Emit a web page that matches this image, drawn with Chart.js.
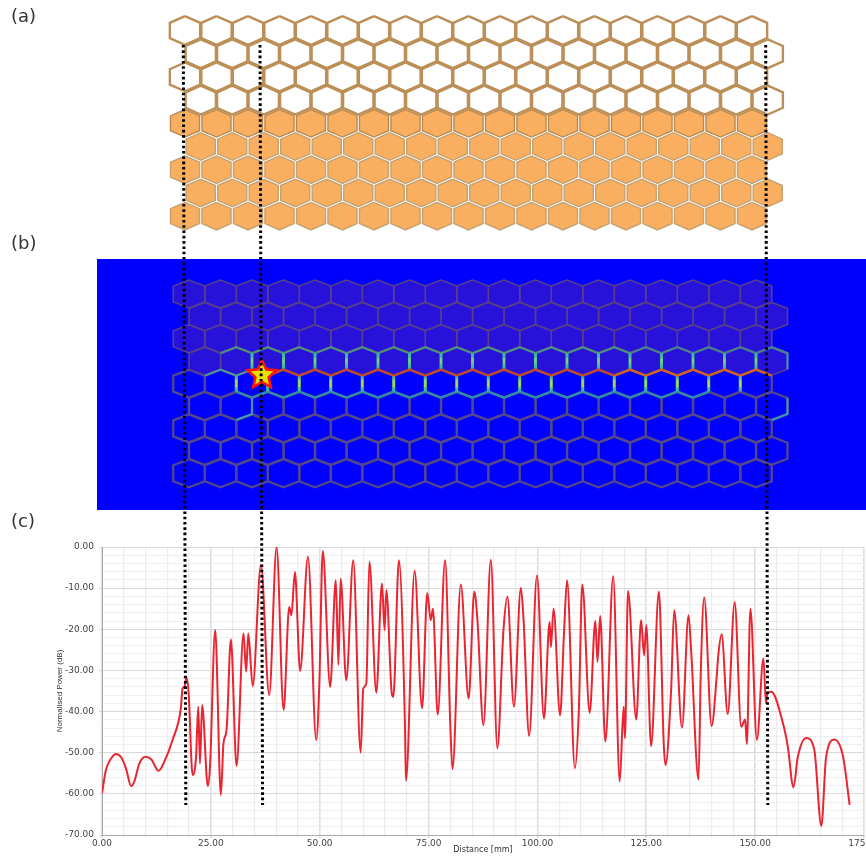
<!DOCTYPE html>
<html>
<head>
<meta charset="utf-8">
<script src="https://cdn.jsdelivr.net/npm/chart.js@4"></script>
<style>
  html, body { margin: 0; padding: 0; background: #fff; }
  #page { position: relative; width: 866px; height: 856px; overflow: hidden; }
  canvas { position: absolute; left: 0; top: 0; }
  #plot { filter: blur(0.6px); }
  #layout { filter: blur(0.5px); }
  .tag { position: absolute; left: 11px; font: 18px "DejaVu Sans", sans-serif; color: #333; line-height: 20px; }
</style>
</head>
<body>
<div id="page">
  <canvas id="plot" width="866" height="856"></canvas>
  <canvas id="layout" width="866" height="856"></canvas>
  <div class="tag" style="top:6px">(a)</div>
  <div class="tag" style="top:233px">(b)</div>
  <div class="tag" style="top:511px">(c)</div>
</div>
<script>
// Measured power along the waveguide (c)
const distance = [0, 0.9, 2.1, 3.2, 4.4, 5.5, 6.7, 7.4, 8.6, 10, 11.3, 13, 14.3, 16.2, 18.1, 18.5, 18.9, 19.4, 19.9, 20.8,
  21.6, 22.1, 22.5, 23, 24.3, 24.8, 26, 27.3, 27.9, 28.6, 29.6, 30.9, 32.5, 33.1, 33.6, 34.6, 36.5, 38.4, 40.1, 41.7,
  43, 43.5, 44.3, 45.5, 47.3, 49.2, 49.9, 50.7, 52.4, 53.7, 54.3, 54.8, 56.1, 57.7, 59.4, 60, 60.7, 61.4, 63, 64.3,
  64.9, 65.3, 66.6, 66.9, 68.2, 69.6, 69.8, 71.8, 73.5, 74.7, 75.5, 76, 77.1, 78.8, 80, 80.5, 82.4, 84.2, 85.5, 86.2,
  87.6, 89.3, 90.8, 92.2, 93.1, 94.6, 96.2, 96.8, 98.1, 99.9, 101.5, 102.8, 103.1, 103.7, 105.2, 106.1, 106.8, 108.6, 109.5, 110.3,
  112, 113.3, 113.8, 114.4, 115.6, 117.4, 118.9, 119.8, 120.1, 120.8, 122.7, 123.8, 124.5, 125, 126.1, 127.9, 129, 129.4, 130.7, 131.4,
  133.2, 134.7, 135.3, 137, 137.5, 138.3, 140, 141.2, 141.5, 142.3, 143.7, 145.3, 146.8, 147.7, 148.1, 148.9, 150.4, 151.9, 152.5, 152.8,
  153.7, 156.4, 157.5, 158.8, 159.8, 161.7, 163.6, 165.2, 166.3, 168.2, 170.2, 171.7];
const power = [-59.9, -54.2, -51.4, -50.3, -51.1, -53.8, -58.1, -57, -52.6, -51, -51.6, -54.4, -52.2, -46.9, -39.2, -34.4, -34, -31.7, -35.6, -55.4,
  -51, -38.8, -52.6, -38.4, -58.1, -53.4, -20.2, -60.3, -47.7, -44.5, -22.5, -53.2, -21, -30.3, -21, -33.8, -4.4, -36, 0, -39.6,
  -14.6, -16.6, -6.1, -30.1, -2.4, -46.9, -33.6, -1, -34, -8.1, -28.7, -7.7, -32.4, -3.2, -50, -34.4, -33.2, -3.6, -35.4, -8.9,
  -20.2, -10.5, -36, -36.4, -3.2, -44.5, -56.8, -5.8, -39.2, -11.2, -17.8, -15, -40.7, -3.2, -43.7, -54, -9.1, -36.8, -10.9, -17.4,
  -43.3, -3.1, -48.9, -20.2, -12.1, -38.8, -9.9, -17.4, -45.9, -6.9, -41.7, -18.2, -24.3, -15, -40.9, -21, -8.1, -53.8, -40, -9.1,
  -40.3, -18, -27.9, -16.8, -47.3, -7.1, -57, -38.8, -46.5, -10.7, -41.9, -17.8, -26.3, -19, -48.4, -10.8, -47.7, -53, -34.8, -15.4,
  -43.9, -16.6, -25.1, -56.5, -31.1, -12.3, -43.5, -31.1, -26.7, -21.2, -40.6, -13.4, -43.7, -41.9, -47.9, -15, -46.9, -27.1, -38, -35.6,
  -35.2, -42.9, -48.5, -58.4, -51, -46.4, -49.4, -67.8, -51, -46.8, -51, -62.7];

// Honeycomb layout
const rows = [0, 1, 2, 3, 4, 5, 6, 7, 8];
const cols = [0, 1, 2, 3, 4, 5, 6, 7, 8, 9, 10, 11, 12, 13, 14, 15, 16, 17, 18];
const tintedRows = [0, 1, 2, 3];
const guideTop = [[183.3, 45], [260, 45], [765.7, 45]];
const guideBottom = [[185.8, 805], [262.6, 805], [767.8, 805]];

// Which hexagon edges light up in the field map (b), by column
const hotZigzag = [3, 4, 5, 6, 7, 8, 9, 10, 11, 12, 13, 14, 15, 16, 17, 18];
const coolZigzag = [1, 2];
const row4Walls = [1, 2, 3, 4, 5, 6, 7, 8, 9, 10, 11, 12, 13, 14, 15, 16, 17];
const row5Walls = [1, 2, 3, 4, 5, 6, 7, 8, 9, 10, 11, 12, 13, 14, 15, 16, 17];
const row4Roofs = [1, 2, 3, 4, 5, 6, 7, 8, 9, 10, 11, 12, 13, 14, 15, 16, 17, 18];
const row5Floors = [2, 3, 4, 5, 6, 7, 8, 9, 10, 11, 12, 13, 14, 15, 16];

const panelA = { x0: 185, y0: 30.5, dy: 23.2, rx: 15.75, top: 15, side: 8 };
const panelB = { x0: 189, y0: 294, dy: 22.4, rx: 15.75, top: 14, side: 8 };
const pitch = 31.5;

function hexCentre(p, r, c) {
  return { x: p.x0 + c * pitch + (r % 2 ? p.rx : 0), y: p.y0 + r * p.dy };
}

function hexagon(p, r, c, shrink) {
  const o = hexCentre(p, r, c);
  const rx = p.rx - shrink, t = p.top - shrink, s = p.side - shrink / 2;
  return [
    { x: o.x, y: o.y - t }, { x: o.x + rx, y: o.y - s }, { x: o.x + rx, y: o.y + s },
    { x: o.x, y: o.y + t }, { x: o.x - rx, y: o.y + s }, { x: o.x - rx, y: o.y - s },
    { x: o.x, y: o.y - t }
  ];
}

function star(cx, cy, outer, inner) {
  const pts = [];
  for (let i = 0; i <= 10; i++) {
    const a = -Math.PI / 2 + i * Math.PI / 5;
    const r = i % 2 ? inner : outer;
    pts.push({ x: cx + r * Math.cos(a), y: cy + r * Math.sin(a) });
  }
  return pts;
}

function middle(a, b, part) {
  const m = { x: (a.x + b.x) / 2, y: (a.y + b.y) / 2 };
  return [
    { x: m.x + (a.x - m.x) * part, y: m.y + (a.y - m.y) * part },
    { x: m.x + (b.x - m.x) * part, y: m.y + (b.y - m.y) * part }
  ];
}

function path(points, color, width, extra) {
  return Object.assign({
    data: points, showLine: true, pointRadius: 0, borderColor: color, borderWidth: width,
    fill: false, tension: 0, borderJoinStyle: 'miter'
  }, extra || {});
}

function shape(points, fillColor, color, width) {
  return path(points, color, width, { fill: 'shape', backgroundColor: fillColor });
}

// first dataset ends up on top
const layers = [];

guideTop.forEach((t, i) => {
  const b = guideBottom[i];
  layers.push(path([{ x: t[0], y: t[1] }, { x: b[0], y: b[1] }], '#000', 3, { borderDash: [2.6, 2.7] }));
});

layers.push(shape(star(262, 375, 15, 7), '#E6E000', '#FF1408', 2.6));

hotZigzag.forEach(c => {
  const h = hexagon(panelB, 4, c, 0);
  layers.push(path([h[5], h[0], h[1]], c > 13 ? '#D0641E' : '#BE4A2A', 2.3));
});
coolZigzag.forEach(c => {
  const h = hexagon(panelB, 4, c, 0);
  layers.push(path([h[5], h[0], h[1]], '#4E9A9A', 2));
});
row5Walls.forEach(c => {
  const h = hexagon(panelB, 4, c, 0);
  layers.push(path(middle(h[1], h[2], 0.5), '#B4D648', 2.2));
  layers.push(path([h[1], h[2]], '#38BE9E', 3));
});
row4Walls.forEach(c => {
  const h = hexagon(panelB, 3, c, 0);
  layers.push(path(middle(h[1], h[2], 0.4), '#7CD070', 2));
  layers.push(path([h[1], h[2]], '#3EB89E', 3));
});
row4Roofs.forEach(c => {
  const h = hexagon(panelB, 3, c, 0);
  layers.push(path([h[5], h[0], h[1]], c < 14 ? '#4F8F80' : '#4B7F90', 2.2));
});
row5Floors.forEach(c => {
  const h = hexagon(panelB, 4, c, 0);
  layers.push(path([h[2], h[3], h[4]], '#2F8FA6', 2.2));
});
// the cell under the source and the far right cells
let h6 = hexagon(panelB, 5, 1, 0);
layers.push(path([h6[1], h6[2], h6[3]], '#3E9CB0', 2));
h6 = hexagon(panelB, 5, 18, 0);
layers.push(path([h6[1], h6[2], h6[3]], '#3E9CB0', 2));
h6 = hexagon(panelB, 3, 18, 0);
layers.push(path([h6[0], h6[1], h6[2]], '#3E9CB0', 2));

rows.forEach(r => cols.forEach(c => {
  const tinted = tintedRows.includes(r);
  layers.push(shape(hexagon(panelB, r, c, 0), tinted ? '#2812DA' : '#0000FF', tinted ? '#563F8C' : '#54478A', tinted ? 1.6 : 2.3));
}));

layers.push(shape([{ x: 97, y: 259 }, { x: 866, y: 259 }, { x: 866, y: 510 }, { x: 97, y: 510 }, { x: 97, y: 259 }], '#0000FF', '#0000FF', 0));

rows.forEach(r => cols.forEach(c => {
  if (r < 4) {
    layers.push(shape(hexagon(panelA, r, c, 0.6), '#FFFFFF', '#BC8F58', 2.4));
  } else {
    layers.push(shape(hexagon(panelA, r, c, 1.2), '#F9AE60', r === 4 ? '#B98A50' : '#C4A272', 1.4));
  }
}));

new Chart(document.getElementById("layout"), {
  type: 'scatter',
  data: { datasets: layers },
  options: {
    responsive: false,
    animation: false,
    events: [],
    plugins: { legend: { display: false }, tooltip: { enabled: false } },
    scales: {
      x: { display: false, min: 0, max: 866 },
      y: { display: false, min: 0, max: 856, reverse: true }
    }
  }
});

new Chart(document.getElementById("plot"), {
  type: 'line',
  data: {
    labels: distance,
    datasets: [{
      data: distance.map((d, i) => ({ x: d, y: power[i] })),
      borderColor: '#EA2430',
      borderWidth: 2,
      pointRadius: 0,
      cubicInterpolationMode: 'monotone'
    }]
  },
  options: {
    responsive: false,
    animation: false,
    events: [],
    layout: { padding: { top: 547, right: 2, left: 0, bottom: 0 } },
    plugins: { legend: { display: false }, tooltip: { enabled: false } },
    scales: {
      x: {
        type: 'linear',
        min: 0,
        max: 175,
        afterFit: s => { s.height = 21; s.paddingLeft = 0; s.paddingRight = 0; },
        grid: {
          color: c => c.tick && c.tick.value % 25 === 0 ? '#dedede' : '#ececec',
          lineWidth: c => c.tick && c.tick.value % 25 === 0 ? 1.6 : 1.2,
          tickLength: 3
        },
        border: { color: '#aaa' },
        ticks: {
          stepSize: 5,
          autoSkip: false,
          maxRotation: 0,
          padding: 0,
          color: '#444',
          font: { family: 'DejaVu Sans', size: 9 },
          callback: v => v % 25 === 0 ? v.toFixed(2) : ''
        },
        title: {
          display: true,
          text: 'Distance [mm]',
          color: '#333',
          font: { family: 'DejaVu Sans', size: 8 },
          padding: { top: 0, bottom: 1 }
        }
      },
      y: {
        min: -70,
        max: 0,
        afterFit: s => { s.width = 102; s.paddingTop = 0; s.paddingBottom = 0; },
        grid: {
          color: c => c.tick && c.tick.value % 10 === 0 ? '#d8d8d8' : '#efefef',
          tickLength: 3,
          lineWidth: 1
        },
        border: { color: '#aaa' },
        ticks: {
          stepSize: 2,
          autoSkip: false,
          padding: 5,
          color: '#444',
          font: { family: 'DejaVu Sans', size: 9 },
          callback: v => v % 10 === 0 ? v.toFixed(2) : ''
        },
        title: {
          display: true,
          text: 'Normalised Power (dB)',
          color: '#333',
          font: { family: 'Liberation Sans', size: 8 },
          padding: { top: 55, bottom: 0 }
        }
      }
    }
  }
});
</script>
</body>
</html>
